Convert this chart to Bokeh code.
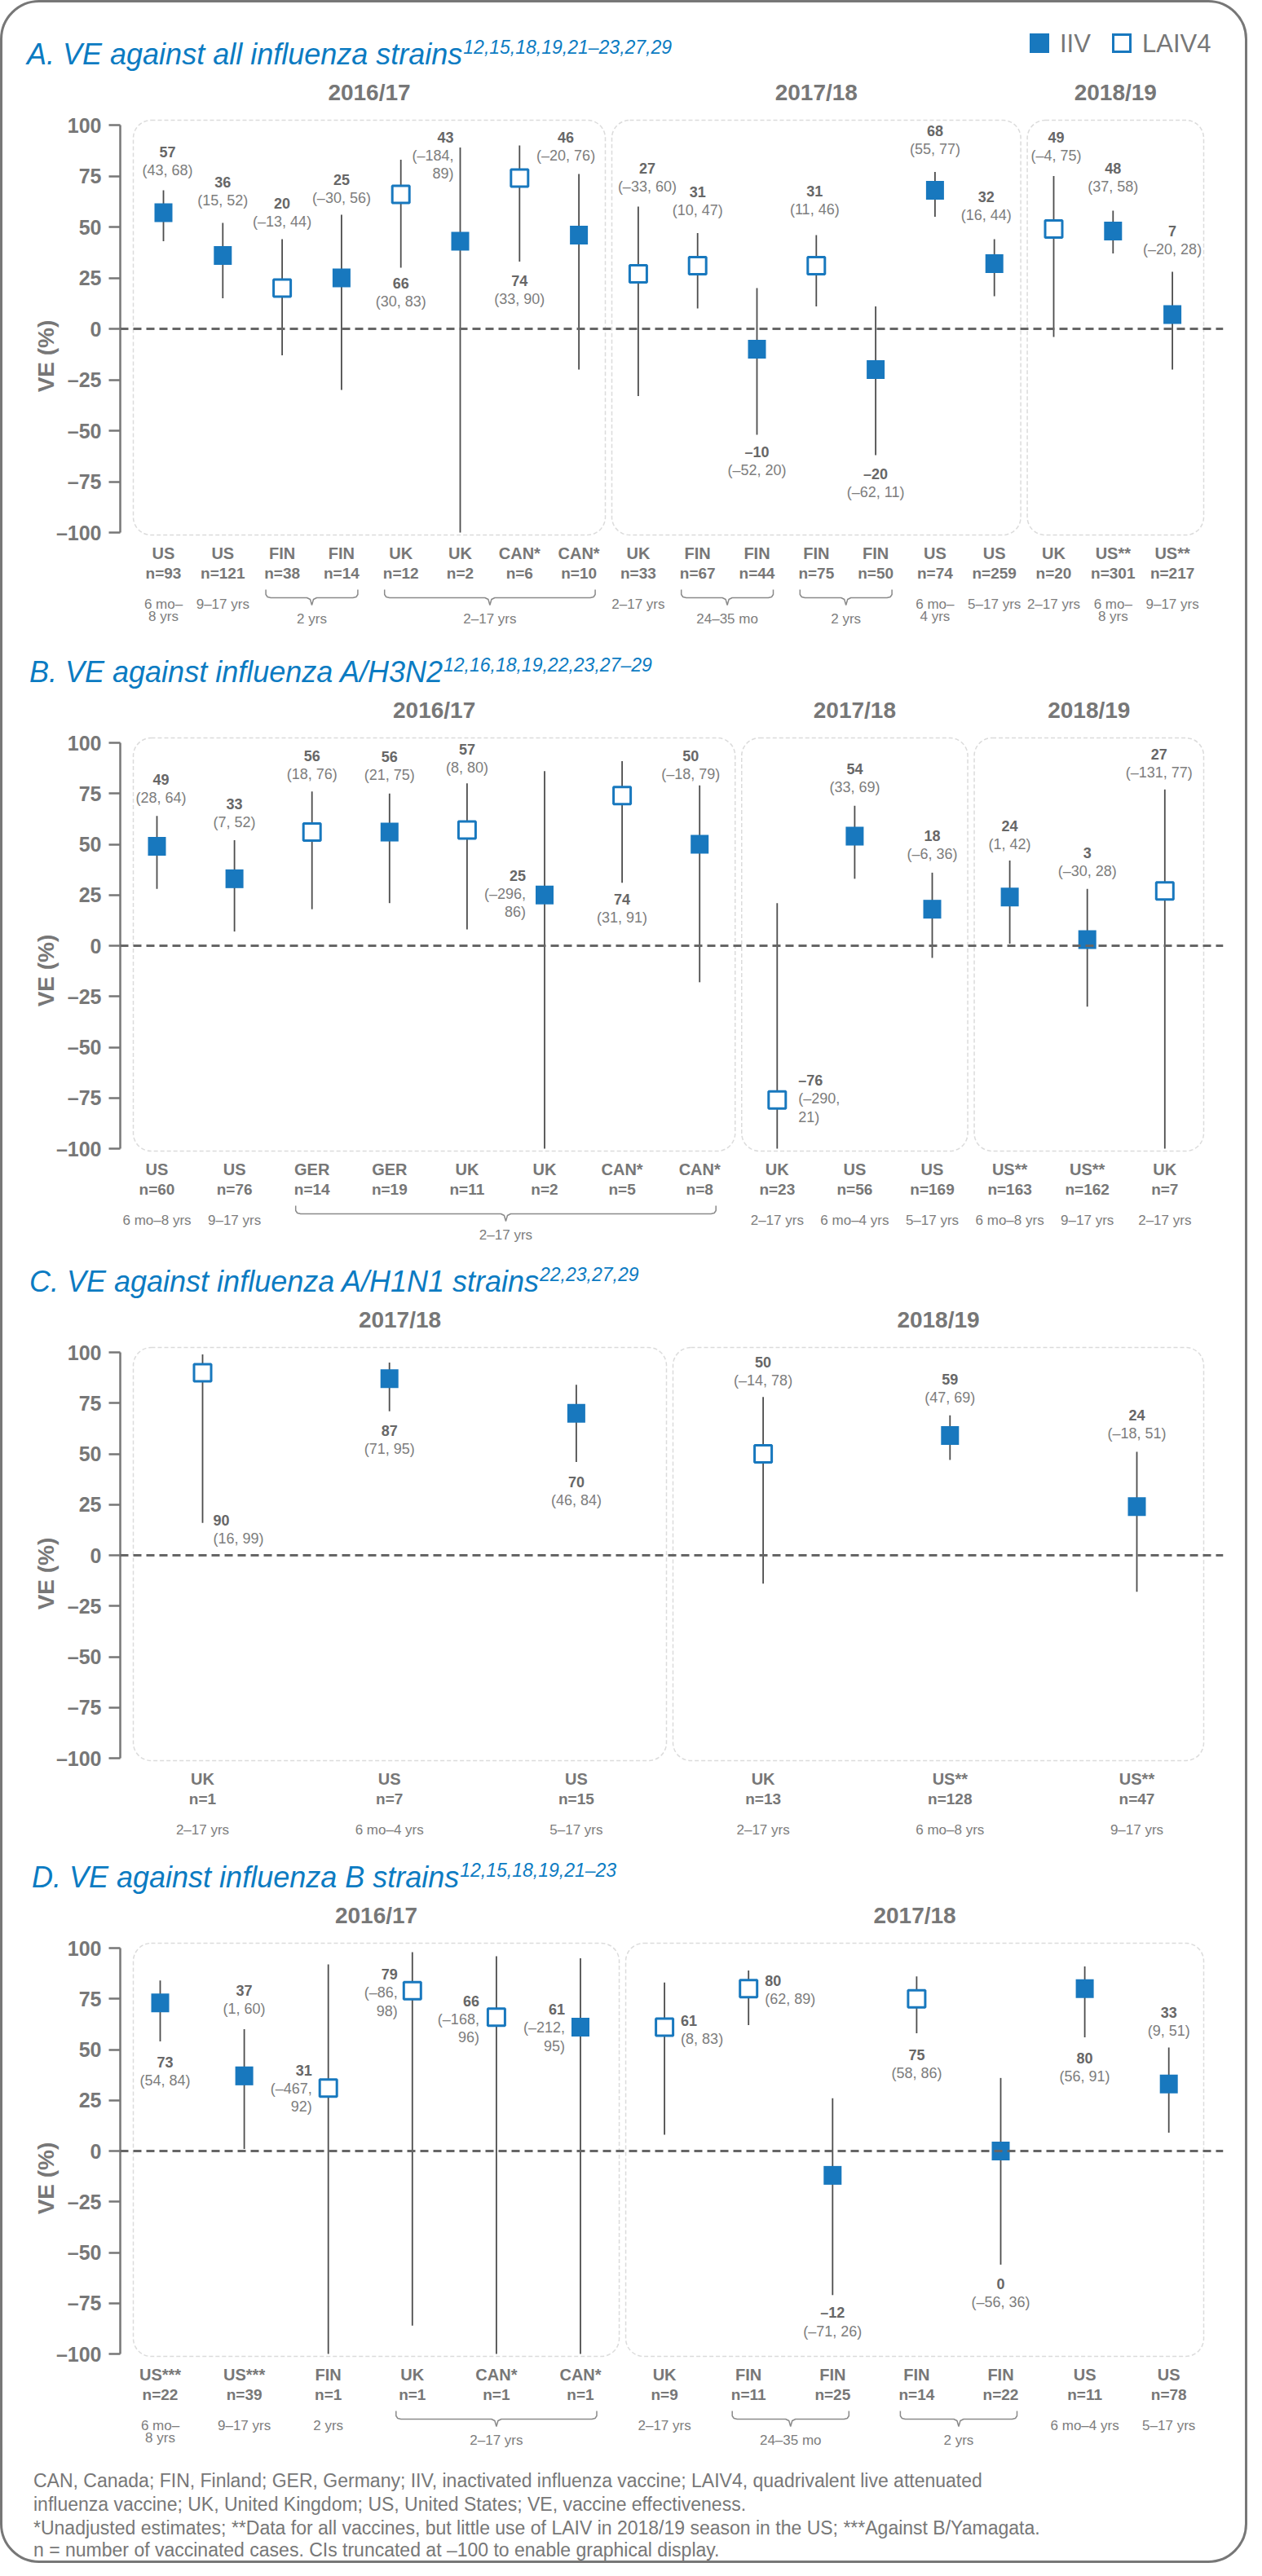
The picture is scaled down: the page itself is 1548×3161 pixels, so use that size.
from bokeh.plotting import figure
from bokeh.models import Range1d, LinearAxis, FixedTicker, Span, BoxAnnotation, Div
from bokeh.layouts import column
from bokeh.core.properties import value
from bokeh.embed import file_html
from bokeh.resources import INLINE

# ---------------- DATA ----------------
A_country = ["US", "US", "FIN", "FIN", "UK", "UK", "CAN*", "CAN*", "UK", "FIN", "FIN", "FIN", "FIN", "US", "US", "UK", "US**", "US**"]
A_n = [93, 121, 38, 14, 12, 2, 6, 10, 33, 67, 44, 75, 50, 74, 259, 20, 301, 217]
A_vaccine = ["IIV", "IIV", "LAIV4", "IIV", "LAIV4", "IIV", "LAIV4", "IIV", "LAIV4", "LAIV4", "IIV", "LAIV4", "IIV", "IIV", "IIV", "LAIV4", "IIV", "IIV"]
A_ve = [57, 36, 20, 25, 66, 43, 74, 46, 27, 31, -10, 31, -20, 68, 32, 49, 48, 7]
A_lo = [43, 15, -13, -30, 30, -184, 33, -20, -33, 10, -52, 11, -62, 55, 16, -4, 37, -20]
A_hi = [68, 52, 44, 56, 83, 89, 90, 76, 60, 47, 20, 46, 11, 77, 44, 75, 58, 28]
A_season = ["2016/17"] * 8 + ["2017/18"] * 7 + ["2018/19"] * 3
A_age = ["6 mo\u2013\n8 yrs", "9\u201317 yrs", "2 yrs", "2 yrs", "2\u201317 yrs", "2\u201317 yrs", "2\u201317 yrs", "2\u201317 yrs",
         "2\u201317 yrs", "24\u201335 mo", "24\u201335 mo", "2 yrs", "2 yrs", "6 mo\u2013\n4 yrs", "5\u201317 yrs",
         "2\u201317 yrs", "6 mo\u2013\n8 yrs", "9\u201317 yrs"]

B_country = ["US", "US", "GER", "GER", "UK", "UK", "CAN*", "CAN*", "UK", "US", "US", "US**", "US**", "UK"]
B_n = [60, 76, 14, 19, 11, 2, 5, 8, 23, 56, 169, 163, 162, 7]
B_vaccine = ["IIV", "IIV", "LAIV4", "IIV", "LAIV4", "IIV", "LAIV4", "IIV", "LAIV4", "IIV", "IIV", "IIV", "IIV", "LAIV4"]
B_ve = [49, 33, 56, 56, 57, 25, 74, 50, -76, 54, 18, 24, 3, 27]
B_lo = [28, 7, 18, 21, 8, -296, 31, -18, -290, 33, -6, 1, -30, -131]
B_hi = [64, 52, 76, 75, 80, 86, 91, 79, 21, 69, 36, 42, 28, 77]
B_season = ["2016/17"] * 8 + ["2017/18"] * 3 + ["2018/19"] * 3
B_age = ["6 mo\u20138 yrs", "9\u201317 yrs"] + ["2\u201317 yrs"] * 6 + ["2\u201317 yrs", "6 mo\u20134 yrs", "5\u201317 yrs",
                                                                  "6 mo\u20138 yrs", "9\u201317 yrs", "2\u201317 yrs"]

C_country = ["UK", "US", "US", "UK", "US**", "US**"]
C_n = [1, 7, 15, 13, 128, 47]
C_vaccine = ["LAIV4", "IIV", "IIV", "LAIV4", "IIV", "IIV"]
C_ve = [90, 87, 70, 50, 59, 24]
C_lo = [16, 71, 46, -14, 47, -18]
C_hi = [99, 95, 84, 78, 69, 51]
C_season = ["2017/18"] * 3 + ["2018/19"] * 3
C_age = ["2\u201317 yrs", "6 mo\u20134 yrs", "5\u201317 yrs", "2\u201317 yrs", "6 mo\u20138 yrs", "9\u201317 yrs"]

D_country = ["US***", "US***", "FIN", "UK", "CAN*", "CAN*", "UK", "FIN", "FIN", "FIN", "FIN", "US", "US"]
D_n = [22, 39, 1, 1, 1, 1, 9, 11, 25, 14, 22, 11, 78]
D_vaccine = ["IIV", "IIV", "LAIV4", "LAIV4", "LAIV4", "IIV", "LAIV4", "LAIV4", "IIV", "LAIV4", "IIV", "IIV", "IIV"]
D_ve = [73, 37, 31, 79, 66, 61, 61, 80, -12, 75, 0, 80, 33]
D_lo = [54, 1, -467, -86, -168, -212, 8, 62, -71, 58, -56, 56, 9]
D_hi = [84, 60, 92, 98, 96, 95, 83, 89, 26, 86, 36, 91, 51]
D_season = ["2016/17"] * 6 + ["2017/18"] * 7
D_age = ["6 mo\u2013\n8 yrs", "9\u201317 yrs", "2 yrs", "2\u201317 yrs", "2\u201317 yrs", "2\u201317 yrs", "2\u201317 yrs",
         "24\u201335 mo", "24\u201335 mo", "2 yrs", "2 yrs", "6 mo\u20134 yrs", "5\u201317 yrs"]

Y_TICKS = [-100, -75, -50, -25, 0, 25, 50, 75, 100]

TITLES = ["A. VE against all influenza strains", "B. VE against influenza A/H3N2",
          "C. VE against influenza A/H1N1 strains", "D. VE against influenza B strains"]
TITLE_REFS = ["12,15,18,19,21\u201323,27,29", "12,16,18,19,22,23,27\u201329", "22,23,27,29", "12,15,18,19,21\u201323"]
LEGEND = ["IIV", "LAIV4"]

FOOTNOTE = [
    "CAN, Canada; FIN, Finland; GER, Germany; IIV, inactivated influenza vaccine; LAIV4, quadrivalent live attenuated",
    "influenza vaccine; UK, United Kingdom; US, United States; VE, vaccine effectiveness.",
    "*Unadjusted estimates; **Data for all vaccines, but little use of LAIV in 2018/19 season in the US; ***Against B/Yamagata.",
    "n = number of vaccinated cases. CIs truncated at \u2013100 to enable graphical display.",
]

# ------------- label placement (layout only) -------------
# (anchor, dx px, dy px, align, split CI onto two lines)
A_place = [("hi", 5, -47, "center", False), ("hi", 0, -50, "center", False), ("hi", 0, -44, "center", False),
           ("hi", 0, -43, "center", False), ("lo", 0, 19, "center", False), ("hi", -8, -13, "right", True),
           ("lo", 0, 23, "center", False), ("hi", -16, -45, "center", False), ("hi", 11, -47, "center", False),
           ("hi", 0, -51, "center", False), ("lo", 0, 21, "center", False), ("hi", -2, -54, "center", False),
           ("lo", 0, 23, "center", False), ("hi", 0, -51, "center", False), ("hi", -10, -52, "center", False),
           ("hi", 3, -48, "center", False), ("hi", 0, -52, "center", False), ("hi", 0, -50, "center", False)]
B_place = [("hi", 5, -45, "center", False), ("hi", 0, -45, "center", False), ("hi", 0, -44, "center", False),
           ("hi", 0, -45, "center", False), ("hi", 0, -42, "center", False), ("ve", -23, -24, "right", True),
           ("lo", 0, 20, "center", False), ("hi", -11, -36, "center", False), ("ve", 26, -24, "left", True),
           ("hi", 0, -45, "center", False), ("hi", 0, -45, "center", False), ("hi", 0, -42, "center", False),
           ("hi", 0, -44, "center", False), ("hi", -7, -43, "center", False)]
C_place = [("lo", 13, -3, "left", False), ("lo", 0, 24, "center", False), ("lo", 0, 25, "center", False),
           ("hi", 0, -43, "center", False), ("hi", 0, -44, "center", False), ("hi", 0, -45, "center", False)]
D_place = [("lo", 6, 25, "center", False), ("hi", 0, -48, "center", False), ("ve", -20, -22, "right", True),
           ("ve", -18, -20, "right", True), ("ve", -21, -20, "right", True), ("ve", -19, -22, "right", True),
           ("ve", 20, -8, "left", False), ("ve", 20, -10, "left", False), ("lo", 0, 22, "center", False),
           ("lo", 0, 26, "center", False), ("lo", 0, 24, "center", False), ("lo", 0, 25, "center", False),
           ("hi", 0, -43, "center", False)]

# ---------------- STYLE / LAYOUT ----------------
FONT = "Liberation Sans"
GRAY = "#777777"
NUM_GRAY = "#676767"
CI_GRAY = "#7d7d7d"
BLUE = "#1878be"
TBLUE = "#0b7bc2"
LINE = "#4d4d4d"
W = 1524
LEFT0 = 11
AXIS_X = 155
RIGHT_X = 1508
DY = 4

PANELS = [
    dict(top=11, height=779, first=208, sp=72.8, zero=407 + DY, ppu=2.5, title_x=41, legend=True,
         data=(A_country, A_n, A_vaccine, A_ve, A_lo, A_hi, A_season, A_age, A_place)),
    dict(top=790, height=750, first=200, sp=95.1, zero=1164 + DY, ppu=2.49, title_x=44, legend=False,
         data=(B_country, B_n, B_vaccine, B_ve, B_lo, B_hi, B_season, B_age, B_place)),
    dict(top=1540, height=732, first=256, sp=229.2, zero=1912 + DY, ppu=2.49, title_x=44, legend=False,
         data=(C_country, C_n, C_vaccine, C_ve, C_lo, C_hi, C_season, C_age, C_place)),
    dict(top=2272, height=753, first=204, sp=103.1, zero=2643 + DY, ppu=2.49, title_x=47, legend=False,
         data=(D_country, D_n, D_vaccine, D_ve, D_lo, D_hi, D_season, D_age, D_place)),
]


def fmt(v):
    return ("\u2013%d" % -v) if v < 0 else "%d" % v


def txt(p, xs, ys, texts, size, bold=False, color=GRAY, align="center"):
    p.text(x=xs, y=ys, text=texts, text_font=value(FONT), text_font_size=value("%dpx" % size),
           text_font_style="bold" if bold else "normal", text_color=color, text_align=align, text_baseline="middle")


def span_html(x, baseline, top0, size, text, color, style=""):
    top = baseline - 0.8465 * size - top0
    return ('<span style="position:absolute;left:%.1fpx;top:%.1fpx;font-size:%dpx;line-height:%dpx;'
            'white-space:nowrap;color:%s;%s">%s</span>' % (x - LEFT0, top, size, size, color, style, text))


def strip_div(top, height, inner):
    html = ('<div style="position:relative;width:%dpx;height:%dpx;overflow:visible;'
            'font-family:\'Liberation Sans\',Arial,sans-serif;">%s</div>' % (W, height, inner))
    return Div(text=html, width=W, height=height, styles={"margin": "0", "padding": "0"})


def make_title(k, cfg, split):
    top = cfg["top"]
    box_top_px = cfg["zero"] - 100 * cfg["ppu"] - 6
    tb = box_top_px - 68
    title = TITLES[k] + ('<span style="font-size:23px;position:relative;top:-13px;margin-left:1px;">%s</span>'
                         % TITLE_REFS[k])
    inner = span_html(cfg["title_x"], tb, top, 36, title, TBLUE, "font-style:italic;")
    if cfg["legend"]:
        ly = 57 + DY
        inner += ('<div style="position:absolute;left:%dpx;top:%dpx;width:24px;height:24px;background:%s;"></div>'
                  % (1271 - LEFT0, ly - 12 - top, BLUE))
        inner += ('<div style="position:absolute;left:%dpx;top:%dpx;width:24px;height:24px;box-sizing:border-box;'
                  'border:3px solid %s;background:white;"></div>' % (1372 - LEFT0, ly - 12 - top, BLUE))
        inner += span_html(1308, ly + 11, top, 31, LEGEND[0], GRAY)
        inner += span_html(1409, ly + 11, top, 31, LEGEND[1], GRAY)
    return strip_div(top, split - top, inner)


def make_panel(k, cfg, top):
    country, n, vaccine, ve, lo, hi, season, age, place = cfg["data"]
    height = cfg["top"] + cfg["height"] - top
    first, sp, zero, ppu = cfg["first"], cfg["sp"], cfg["zero"], cfg["ppu"]

    def X(px):
        return (px - first) / sp

    def Y(py):
        return (zero - py) / ppu

    def PX(i):
        return first + i * sp

    p = figure(width=W, height=height, x_range=Range1d(X(AXIS_X), X(RIGHT_X)),
               y_range=Range1d(Y(top + height), Y(top)),
               min_border_left=AXIS_X - LEFT0, min_border_right=LEFT0 + W - RIGHT_X,
               min_border_top=0, min_border_bottom=0, x_axis_type=None, y_axis_type=None,
               toolbar_location=None, output_backend="svg", outline_line_color=None,
               background_fill_color=None, border_fill_color=None)

    ax = LinearAxis(bounds=(-100, 100), ticker=FixedTicker(ticks=Y_TICKS),
                    major_label_overrides={t: fmt(t) for t in Y_TICKS},
                    axis_label="VE (%)", axis_label_text_font=FONT, axis_label_text_font_style="bold",
                    axis_label_text_font_size="28px", axis_label_text_color=GRAY, axis_label_standoff=-6,
                    major_label_text_font=FONT, major_label_text_font_style="bold",
                    major_label_text_font_size="25px", major_label_text_color=GRAY, major_label_standoff=9,
                    major_tick_out=14, major_tick_in=0, minor_tick_out=0, minor_tick_in=0,
                    major_tick_line_width=2.5, major_tick_line_color=GRAY,
                    axis_line_width=2.5, axis_line_color=GRAY)
    p.add_layout(ax, "left")

    p.add_layout(Span(location=0, dimension="width", line_color="#666666", line_width=3, line_dash="10 6"))

    N = len(country)
    runs = []
    for i in range(N):
        if runs and season[runs[-1][0]] == season[i]:
            runs[-1][1] = i
        else:
            runs.append([i, i])
    box_top_px = zero - 100 * ppu - 6
    box_bot_px = zero + 100 * ppu + 3
    for gi, (a, b) in enumerate(runs):
        left = X(AXIS_X + 16) if gi == 0 else X((PX(a - 1) + PX(a)) / 2 + 4)
        right = X(RIGHT_X - 24) if gi == len(runs) - 1 else X((PX(b) + PX(b + 1)) / 2 - 4)
        p.add_layout(BoxAnnotation(left=left, right=right, top=Y(box_top_px), bottom=Y(box_bot_px),
                                   fill_alpha=0, line_color="#888888", line_width=1.5, line_dash="5 3",
                                   border_radius=22, level="underlay"))
        txt(p, [(left + right) / 2], [Y(box_top_px - 34)], [season[a]], 28, bold=True)

    xs = list(range(N))
    p.segment(x0=xs, y0=[max(v, -100) for v in lo], x1=xs, y1=hi, line_color=LINE, line_width=1.8)
    ii = [i for i in xs if vaccine[i] == "IIV"]
    ll = [i for i in xs if vaccine[i] == "LAIV4"]
    p.rect(x=ii, y=[ve[i] for i in ii], width=22, height=23, width_units="screen", height_units="screen",
           fill_color=BLUE, line_color=None)
    p.rect(x=ll, y=[ve[i] for i in ll], width=21, height=21, width_units="screen", height_units="screen",
           fill_color="white", line_color=BLUE, line_width=3)

    groups = {}
    for i in xs:
        anchor, dx, dy, align, split = place[i]
        aval = {"hi": hi[i], "lo": max(lo[i], -100), "ve": ve[i]}[anchor]
        base = zero - aval * ppu + dy
        lines = [fmt(ve[i])]
        if split:
            lines += ["(%s," % fmt(lo[i]), "%s)" % fmt(hi[i])]
        else:
            lines += ["(%s, %s)" % (fmt(lo[i]), fmt(hi[i]))]
        for j, t in enumerate(lines):
            g = groups.setdefault((align, j == 0), ([], [], []))
            g[0].append(X(PX(i) + dx))
            g[1].append(Y(base + 22.5 * j))
            g[2].append(t)
    for (align, isnum), (gx, gy, gt) in groups.items():
        txt(p, gx, gy, gt, 18, bold=isnum, color=NUM_GRAY if isnum else CI_GRAY, align=align)

    m100 = zero + 100 * ppu
    txt(p, xs, [Y(m100 + 25)] * N, country, 20, bold=True)
    txt(p, xs, [Y(m100 + 50)] * N, ["n=%d" % v for v in n], 19, bold=True)
    aruns = []
    for i in xs:
        if aruns and age[aruns[-1][0]] == age[i] and season[aruns[-1][0]] == season[i]:
            aruns[-1][1] = i
        else:
            aruns.append([i, i])
    ax_, ay_, at_ = [], [], []
    for a, b in aruns:
        if a == b:
            for j, t in enumerate(age[a].split("\n")):
                ax_.append(a)
                ay_.append(Y(m100 + 88 + 15 * j))
                at_.append(t)
        else:
            L, R = PX(a) - 20, PX(b) + 20
            C = (L + R) / 2
            T = m100 + 70
            pts = [(L, T), (L, T + 6), (L + 2, T + 9), (L + 6, T + 10), (C - 6, T + 10), (C - 2, T + 12),
                   (C, T + 19), (C + 2, T + 12), (C + 6, T + 10), (R - 6, T + 10), (R - 2, T + 9), (R, T + 6), (R, T)]
            p.line(x=[X(q[0]) for q in pts], y=[Y(q[1]) for q in pts], line_color="#8a8a8a", line_width=1.5)
            ax_.append(X(C))
            ay_.append(Y(m100 + 106))
            at_.append(age[a])
    txt(p, ax_, ay_, at_, 17, color=CI_GRAY)
    return p


items = []
for k, cfg in enumerate(PANELS):
    split = int(cfg["zero"] - 100 * cfg["ppu"] - 6 - 56)
    items.append(make_title(k, cfg, split))
    items.append(make_panel(k, cfg, split))

ftop, fh = 3025, 125
foot = "".join(span_html(49, b, ftop, 23, t, GRAY) for b, t in zip([3060, 3089, 3118, 3145], FOOTNOTE))
items.append(strip_div(ftop, fh, foot))

layout = column(*items, spacing=0,
                styles={"border": "3px solid #777777", "border-radius": "48px"})

open("out.html", "w").write(file_html(layout, INLINE))
